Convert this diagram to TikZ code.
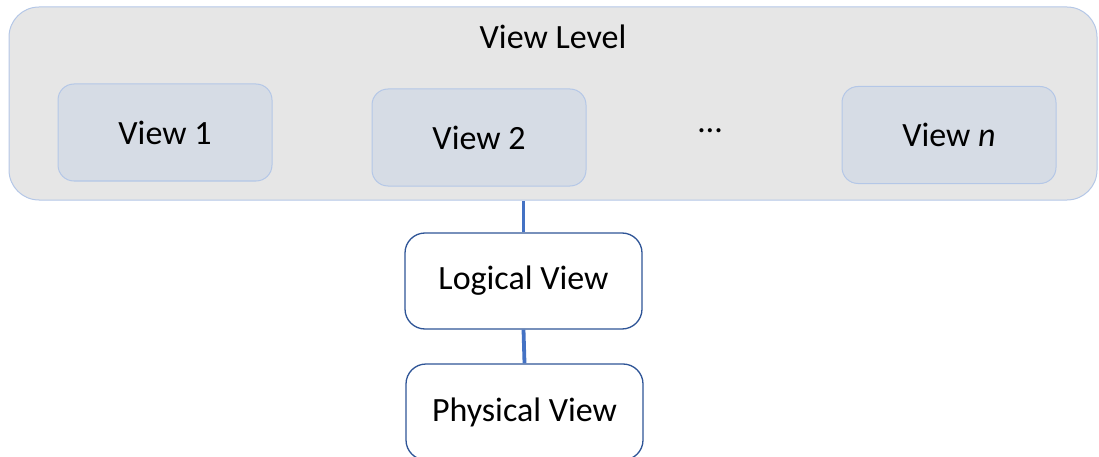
\documentclass[tikz,border=0pt]{standalone}
\usepackage{fontspec}
\setmainfont{Carlito}
\definecolor{levelfill}{HTML}{E6E6E6}
\definecolor{levelline}{HTML}{B4C7E7}
\definecolor{viewfill}{HTML}{D6DCE5}
\definecolor{layerline}{HTML}{2F5597}
\definecolor{linkblue}{HTML}{4472C4}
\begin{document}
\begin{tikzpicture}[x=1pt, y=-1pt,
    levelstyle/.style={rectangle, rounded corners=30pt, draw=levelline, fill=levelfill, line width=1pt, minimum width=1088pt, minimum height=193pt},
    viewstyle/.style={rectangle, rounded corners=16pt, draw=levelline, fill=viewfill, line width=1pt, minimum width=214pt, minimum height=97pt, font=\fontsize{34}{40}\selectfont},
    layerstyle/.style={rectangle, rounded corners=20pt, draw=layerline, fill=white, line width=1.3pt, minimum width=237pt, minimum height=96pt, font=\fontsize{34}{40}\selectfont},
    linkstyle/.style={draw=linkblue, line width=3.8pt}
]
    \useasboundingbox (0,0) rectangle (1099,457);
    \node[levelstyle] (level) at (553,103.5) {};
    \node[font=\fontsize{34}{40}\selectfont] (leveltitle) at (553,37) {View Level};
    \node[viewstyle] (view1) at (165,132.5) {View 1};
    \node[viewstyle] (view2) at (479,137.5) {View 2};
    \node[font=\fontsize{34}{40}\selectfont] (dots) at (710,131) {\dots};
    \node[viewstyle] (viewn) at (949,135) {View \textit{n}};

    \node[layerstyle] (logical) at (523.5,281) {Logical View};
    \node[layerstyle] (physical) at (524.5,412) {Physical View};

    \draw[linkstyle] (logical.north) -- (logical.north |- level.south);
    \draw[linkstyle] (physical.north) -- (logical.south);
\end{tikzpicture}
\end{document}
